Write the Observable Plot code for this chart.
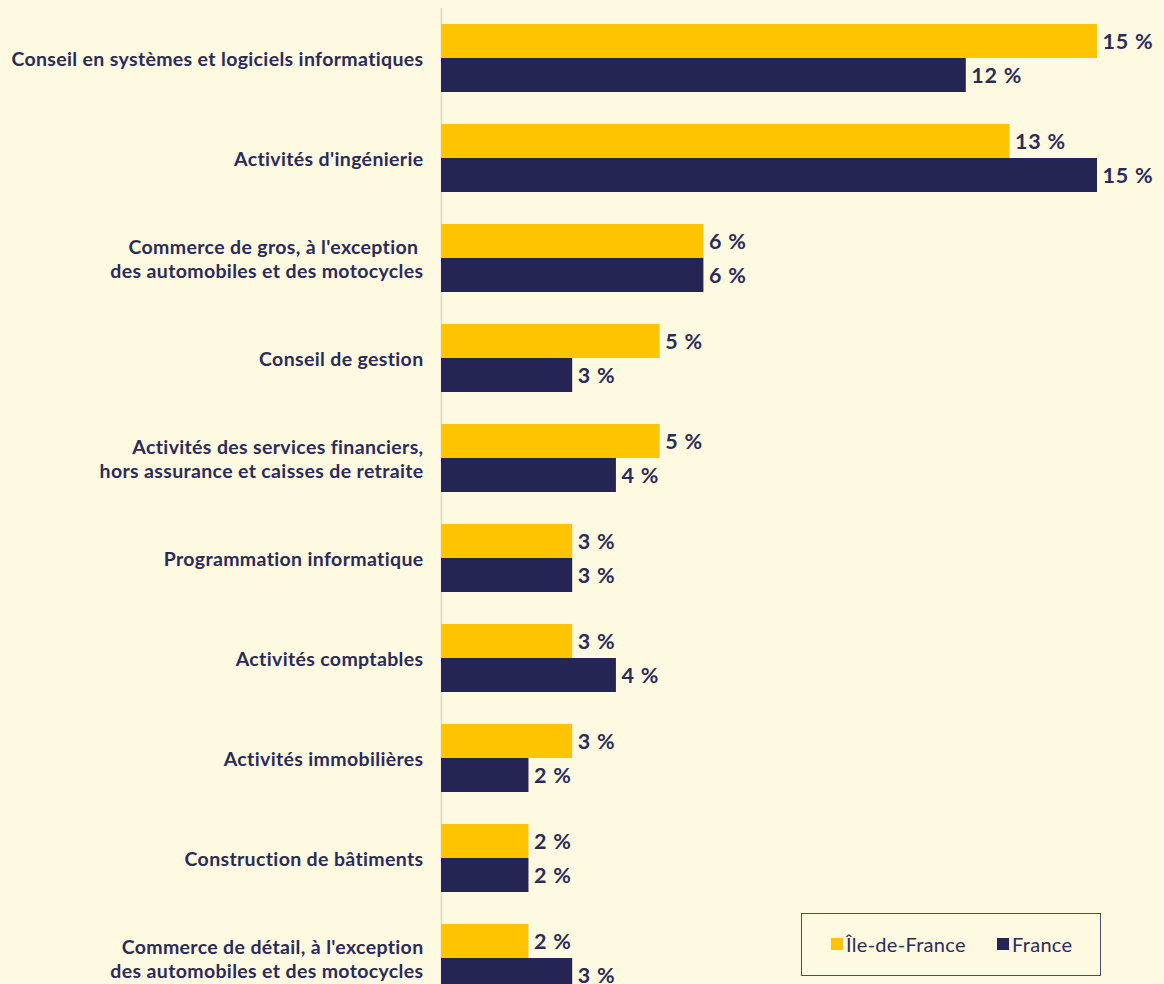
<!DOCTYPE html>
<html>
<head>
<meta charset="utf-8">
<script src="https://cdn.jsdelivr.net/npm/d3@7"></script>
<script src="https://cdn.jsdelivr.net/npm/@observablehq/plot@0.6"></script>
<style>
  html, body { margin: 0; padding: 0; background: #fef9e1; overflow: hidden; }
  #wrap { position: relative; width: 1164px; height: 984px; overflow: hidden; }
  #legend {
    position: absolute; left: 801px; top: 913px; width: 300px; height: 63px;
    border: 1.5px solid #4b4b6b; box-sizing: border-box;
    font-family: Lato, sans-serif; font-size: 20px; color: #2b2b5a;
    letter-spacing: 0.3px;
  }
  #legend .item { position: absolute; top: 0; height: 60px; display: flex; align-items: center; }
  #legend .sw { width: 12px; height: 12px; margin-right: 3px; }
  .catlab text { letter-spacing: 0.35px; }
  .vallab text { letter-spacing: 0.8px; }
</style>
</head>
<body>
<div id="wrap">
  <div id="chart"></div>
  <div id="legend"></div>
</div>
<script>
const categories = [
  "Conseil en systèmes et logiciels informatiques",
  "Activités d'ingénierie",
  "Commerce de gros, à l'exception\u00a0\ndes automobiles et des motocycles",
  "Conseil de gestion",
  "Activités des services financiers,\nhors assurance et caisses de retraite",
  "Programmation informatique",
  "Activités comptables",
  "Activités immobilières",
  "Construction de bâtiments",
  "Commerce de détail, à l'exception\ndes automobiles et des motocycles"
];
const series = ["Île-de-France", "France"];
const idfValues = [15, 13, 6, 5, 5, 3, 3, 3, 2, 2];
const franceValues = [12, 15, 6, 3, 4, 3, 4, 2, 2, 3];
const colors = ["#ffc400", "#252555"];
const textColor = "#2b2b5a";

const rows = [];
categories.forEach((c, i) => {
  rows.push({category: c, series: series[0], value: idfValues[i]});
  rows.push({category: c, series: series[1], value: franceValues[i]});
});

const chart = Plot.plot({
  width: 1164,
  height: 1016,
  marginTop: 0,
  marginBottom: 0,
  marginLeft: 441,
  marginRight: 67,
  style: {background: "transparent", fontFamily: "Lato, sans-serif"},
  fy: {domain: categories, paddingInner: 0.32, paddingOuter: 0.24, axis: null, label: null},
  y: {domain: series, padding: 0, axis: null, label: null},
  x: {domain: [0, 15], axis: null, label: null},
  color: {domain: series, range: colors},
  marks: [
    Plot.ruleX([0], {stroke: "#d8d6cc", strokeWidth: 1.5, insetTop: -16, insetBottom: -16}),
    Plot.barX(rows, {fy: "category", y: "series", x: "value", fill: "series"}),
    Plot.text(rows, {
      fy: "category", y: "series", x: "value",
      text: d => `${d.value} %`,
      textAnchor: "start", dx: 5, dy: 1,
      fill: textColor, fontWeight: "bold", fontSize: 21.5,
      className: "vallab"
    }),
    Plot.text(categories, {
      fy: d => d, text: d => d,
      frameAnchor: "left", textAnchor: "end", dx: -18,
      fill: textColor, fontWeight: "bold", fontSize: 19.5, lineHeight: 1.23,
      className: "catlab"
    })
  ]
});
document.getElementById("chart").appendChild(chart);

const legend = document.getElementById("legend");
const itemLefts = [29, 195];
series.forEach((s, i) => {
  const item = document.createElement("div");
  item.className = "item";
  item.style.left = itemLefts[i] + "px";
  const sw = document.createElement("span");
  sw.className = "sw";
  sw.style.background = colors[i];
  const lab = document.createElement("span");
  lab.textContent = s;
  item.appendChild(sw);
  item.appendChild(lab);
  legend.appendChild(item);
});
</script>
</body>
</html>
